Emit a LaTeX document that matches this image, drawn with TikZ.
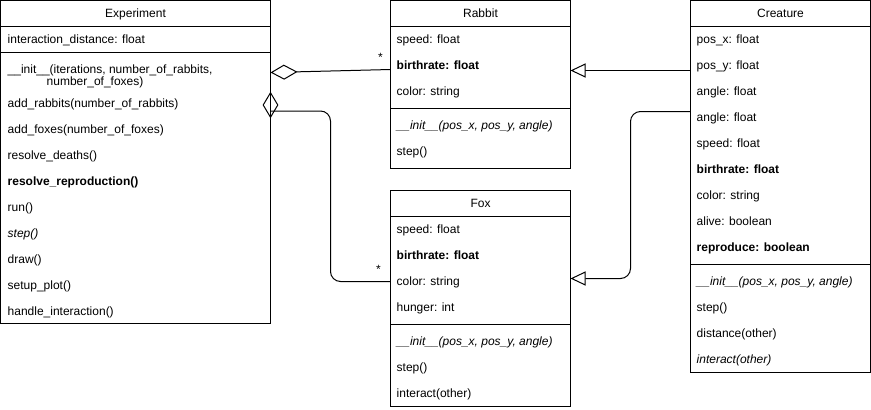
\documentclass[tikz,border=0pt]{standalone}
\usepackage{fontspec}
\setmainfont{Liberation Sans}
\usetikzlibrary{arrows.meta,calc,positioning,shapes.geometric}

\begin{document}
\begin{tikzpicture}
    [x=1pt,y=-1pt,
    font=\fontsize{12}{14}\selectfont,
    classbox/.style={
      rectangle,
      draw=black,
      line width=1pt,
      inner sep=0,
      outer sep=0,
      anchor=north west
    },
    title/.style={
      inner sep=0,
      text height=9.5pt,
      text depth=1.5pt
    },
    row/.style={
      anchor=west,
      inner sep=0,
      text height=9.5pt,
      text depth=1.5pt
    },
    sep/.style={
      draw,
      line width=1pt
    },
    inherit/.style={
      draw,
      line width=1pt,
      -{Triangle[open,fill=white,length=15pt,width=14pt]}
    },
    aggr/.style={
      draw,
      line width=1pt,
      -{Diamond[open,fill=white,length=27pt,width=15pt]}
    },
    mult/.style={
      inner sep=0,
      text height=9.5pt,
      text depth=1.5pt
    }
  ]
    \useasboundingbox (-0.5,-0.5) rectangle (870.5,409.5);
    \path (0,0) node[classbox, minimum width=270pt, minimum height=323pt] (exp) {}
          (390,0) node[classbox, minimum width=180pt, minimum height=168pt] (rab) {}
          (390,190) node[classbox, minimum width=180pt, minimum height=216pt] (fox) {}
          (690,0) node[classbox, minimum width=180pt, minimum height=372pt] (crt) {};
    \foreach \n/\a/\b in {exp/26/52, rab/26/108, fox/26/134, crt/26/264} {
      \draw[sep] ([yshift=-\a pt]\n.north west) -- ([yshift=-\a pt]\n.north east);
      \draw[sep] ([yshift=-\b pt]\n.north west) -- ([yshift=-\b pt]\n.north east);
    }
    \path (135,13) node[title] (exptitle) {Experiment}
          (7,39) node[row] (expdist) {interaction\_distance: float}
          (7,69) node[row] (expinit) {\_\_init\_\_(iterations, number\_of\_rabbits,}
          (46,81) node[row] (expinitb) {number\_of\_foxes)}
          (7,103) node[row] (expaddr) {add\_rabbits(number\_of\_rabbits)}
          (7,129) node[row] (expaddf) {add\_foxes(number\_of\_foxes)}
          (7,155) node[row] (expdeath) {resolve\_deaths()}
          (7,181) node[row] (expreprod) {\bfseries resolve\_reproduction()}
          (7,207) node[row] (exprun) {run()}
          (7,233) node[row] (expstep) {\itshape step()}
          (7,259) node[row] (expdraw) {draw()}
          (7,285) node[row] (expplot) {setup\_plot()}
          (7,311) node[row] (expinter) {handle\_interaction()};
    \path (480,13) node[title] (rabtitle) {Rabbit}
          (396,39) node[row] (rabspeed) {speed: float}
          (396,65) node[row] (rabbirth) {\bfseries birthrate: float}
          (396,91) node[row] (rabcolor) {color: string}
          (396,125) node[row] (rabinit) {\itshape \_\_init\_\_(pos\_x, pos\_y, angle)}
          (396,151) node[row] (rabstep) {step()};
    \path (480,203) node[title] (foxtitle) {Fox}
          (396,229) node[row] (foxspeed) {speed: float}
          (396,255) node[row] (foxbirth) {\bfseries birthrate: float}
          (396,281) node[row] (foxcolor) {color: string}
          (396,307) node[row] (foxhunger) {hunger: int}
          (396,341) node[row] (foxinit) {\itshape \_\_init\_\_(pos\_x, pos\_y, angle)}
          (396,367) node[row] (foxstep) {step()}
          (396,393) node[row] (foxinter) {interact(other)};
    \path (780,13) node[title] (crttitle) {Creature}
          (696,39) node[row] (crtposx) {pos\_x: float}
          (696,65) node[row] (crtposy) {pos\_y: float}
          (696,91) node[row] (crtangle) {angle: float}
          (696,117) node[row] (crtangleb) {angle: float}
          (696,143) node[row] (crtspeed) {speed: float}
          (696,169) node[row] (crtbirth) {\bfseries birthrate: float}
          (696,195) node[row] (crtcolor) {color: string}
          (696,221) node[row] (crtalive) {alive: boolean}
          (696,247) node[row] (crtreprod) {\bfseries reproduce: boolean}
          (696,281) node[row] (crtinit) {\itshape \_\_init\_\_(pos\_x, pos\_y, angle)}
          (696,307) node[row] (crtstep) {step()}
          (696,333) node[row] (crtdist) {distance(other)}
          (696,359) node[row] (crtinter) {\itshape interact(other)};
    \draw[inherit] ([yshift=-70pt]crt.north west) -- ([yshift=-70pt]rab.north east);
    \draw[inherit, rounded corners=10pt] ([yshift=-111pt]crt.north west) -- ++(-60,0) |- ([yshift=-88pt]fox.north east);
    \draw[aggr] ([yshift=-69pt]rab.north west) -- ([yshift=-72pt]exp.north east);
    \node[mult] (rabmult) at ([xshift=-10pt,yshift=-57pt]rab.north west) {*};
    \node[diamond, draw, line width=1pt, inner sep=0, minimum width=15pt, minimum height=25pt] (foxagg) at ([yshift=-104.5pt]exp.north east) {};
    \draw[line width=1pt, rounded corners=10pt] ([yshift=-6pt]foxagg.center) -- ++(60,0) |- ([yshift=-91pt]fox.north west);
    \node[mult] (foxmult) at ([xshift=-12pt,yshift=-79pt]fox.north west) {*};
\end{tikzpicture}
\end{document}
